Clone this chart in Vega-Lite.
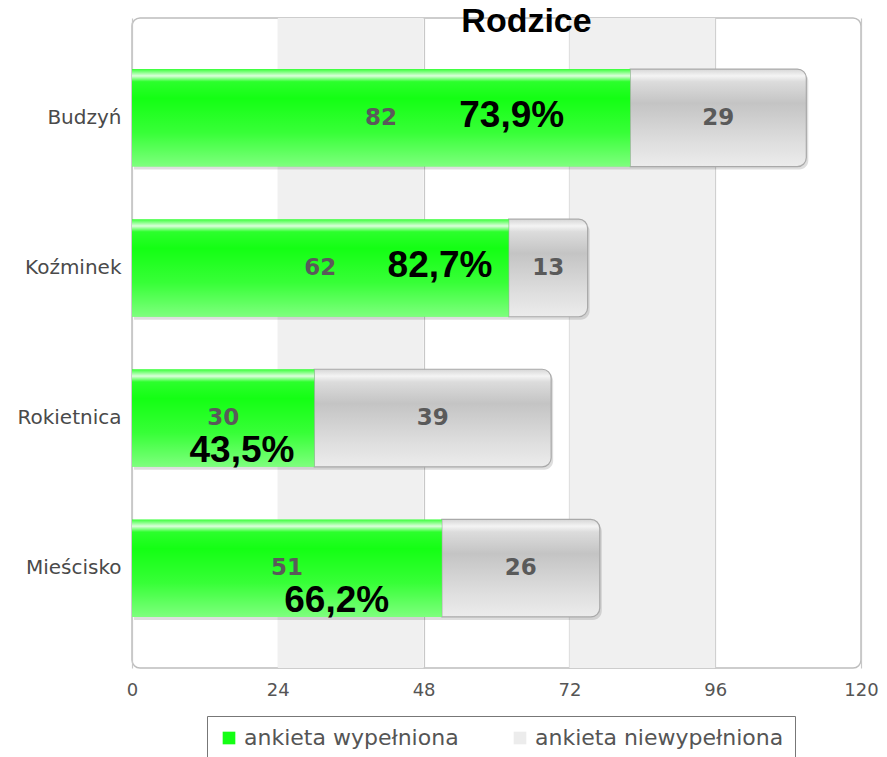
{
  "$schema": "https://vega.github.io/schema/vega-lite/v6.json",
  "width": 729,
  "height": 650,
  "autosize": {"type": "none"},
  "padding": {"left": 132, "top": 18, "right": 26, "bottom": 89},
  "background": "white",
  "title": {
    "text": "Rodzice",
    "font": "Liberation Sans",
    "fontSize": 34,
    "fontWeight": "bold",
    "color": "#000000",
    "anchor": "middle",
    "frame": "group",
    "dx": 30,
    "offset": -21
  },
  "datasets": {
    "ankiety": [
      {"miejscowosc": "Budzyń", "seria": "ankieta wypełniona", "liczba": 82},
      {"miejscowosc": "Budzyń", "seria": "ankieta niewypełniona", "liczba": 29},
      {"miejscowosc": "Koźminek", "seria": "ankieta wypełniona", "liczba": 62},
      {"miejscowosc": "Koźminek", "seria": "ankieta niewypełniona", "liczba": 13},
      {"miejscowosc": "Rokietnica", "seria": "ankieta wypełniona", "liczba": 30},
      {"miejscowosc": "Rokietnica", "seria": "ankieta niewypełniona", "liczba": 39},
      {"miejscowosc": "Mieścisko", "seria": "ankieta wypełniona", "liczba": 51},
      {"miejscowosc": "Mieścisko", "seria": "ankieta niewypełniona", "liczba": 26}
    ],
    "procenty": [
      {"miejscowosc": "Budzyń", "procent": "73,9%", "kotwica": 62.5, "wiersz": "srodek"},
      {"miejscowosc": "Koźminek", "procent": "82,7%", "kotwica": 50.7, "wiersz": "srodek"},
      {"miejscowosc": "Rokietnica", "procent": "43,5%", "kotwica": 18.1, "wiersz": "dol"},
      {"miejscowosc": "Mieścisko", "procent": "66,2%", "kotwica": 33.7, "wiersz": "dol"}
    ],
    "pasy": [
      {"od": 24, "do": 48},
      {"od": 72, "do": 96}
    ]
  },
  "layer": [
    {
      "data": {"name": "pasy"},
      "mark": {"type": "rect", "fill": "#f0f0f0"},
      "encoding": {
        "x": {"field": "od", "type": "quantitative", "scale": {"domain": [0, 120]}, "axis": {"values": [0, 24, 48, 72, 96, 120]}},
        "x2": {"field": "do"}
      }
    },
    {
      "data": {"name": "ankiety"},
      "transform": [
        {"stack": "liczba", "groupby": ["miejscowosc"], "sort": [{"field": "seria", "order": "descending"}], "as": ["x0", "x1"]},
        {"filter": "datum.seria == 'ankieta wypełniona'"}
      ],
      "mark": {
        "type": "bar",
        "fill": "#000000",
        "opacity": 0.13,
        "xOffset": 2,
        "x2Offset": 2,
        "yOffset": 3,
        "y2Offset": 3
      },
      "encoding": {
        "y": {"field": "miejscowosc", "type": "nominal", "sort": ["Budzyń", "Koźminek", "Rokietnica", "Mieścisko"], "scale": {"paddingInner": 0.35, "paddingOuter": 0.34}},
        "x": {"field": "x0", "type": "quantitative"},
        "x2": {"field": "x1"}
      }
    },
    {
      "data": {"name": "ankiety"},
      "transform": [
        {"stack": "liczba", "groupby": ["miejscowosc"], "sort": [{"field": "seria", "order": "descending"}], "as": ["x0", "x1"]},
        {"filter": "datum.seria == 'ankieta niewypełniona'"}
      ],
      "mark": {
        "type": "bar",
        "fill": "#000000",
        "opacity": 0.13,
        "cornerRadiusTopRight": 9,
        "cornerRadiusBottomRight": 9,
        "xOffset": 2,
        "x2Offset": 2,
        "yOffset": 3,
        "y2Offset": 3
      },
      "encoding": {
        "y": {"field": "miejscowosc", "type": "nominal", "sort": ["Budzyń", "Koźminek", "Rokietnica", "Mieścisko"]},
        "x": {"field": "x0", "type": "quantitative"},
        "x2": {"field": "x1"}
      }
    },
    {
      "data": {"name": "ankiety"},
      "transform": [
        {"stack": "liczba", "groupby": ["miejscowosc"], "sort": [{"field": "seria", "order": "descending"}], "as": ["x0", "x1"]},
        {"filter": "datum.seria == 'ankieta niewypełniona'"}
      ],
      "mark": {
        "type": "bar",
        "cornerRadiusTopRight": 9,
        "cornerRadiusBottomRight": 9,
        "stroke": "#a9a9a9",
        "strokeWidth": 1.2,
        "fill": {
          "gradient": "linear", "x1": 0, "y1": 0, "x2": 0, "y2": 1,
          "stops": [
            {"offset": 0, "color": "#d6d6d6"},
            {"offset": 0.07, "color": "#f4f4f4"},
            {"offset": 0.13, "color": "#dcdcdc"},
            {"offset": 0.35, "color": "#c4c4c4"},
            {"offset": 0.75, "color": "#dedede"},
            {"offset": 1, "color": "#ececec"}
          ]
        }
      },
      "encoding": {
        "y": {"field": "miejscowosc", "type": "nominal", "sort": ["Budzyń", "Koźminek", "Rokietnica", "Mieścisko"]},
        "x": {"field": "x0", "type": "quantitative"},
        "x2": {"field": "x1"}
      }
    },
    {
      "data": {"name": "ankiety"},
      "transform": [
        {"stack": "liczba", "groupby": ["miejscowosc"], "sort": [{"field": "seria", "order": "descending"}], "as": ["x0", "x1"]},
        {"filter": "datum.seria == 'ankieta wypełniona'"}
      ],
      "mark": {"type": "bar"},
      "encoding": {
        "y": {"field": "miejscowosc", "type": "nominal", "sort": ["Budzyń", "Koźminek", "Rokietnica", "Mieścisko"]},
        "x": {"field": "x0", "type": "quantitative"},
        "x2": {"field": "x1"},
        "color": {
          "field": "seria",
          "type": "nominal",
          "scale": {"domain": ["ankieta wypełniona", "ankieta niewypełniona"], "range": ["#14ff14", "#ececec"]},
          "legend": {
            "title": null,
            "orient": "none",
            "legendX": 75,
            "legendY": 698,
            "direction": "horizontal",
            "symbolType": "square",
            "symbolSize": 160,
            "symbolStrokeWidth": 0,
            "labelFont": "DejaVu Sans",
            "labelFontSize": 22,
            "labelColor": "#555555",
            "labelLimit": 400,
            "columnPadding": 50,
            "padding": 11,
            "strokeColor": "#777777",
            "fillColor": "#ffffff"
          }
        }
      }
    },
    {
      "data": {"name": "ankiety"},
      "transform": [
        {"stack": "liczba", "groupby": ["miejscowosc"], "sort": [{"field": "seria", "order": "descending"}], "as": ["x0", "x1"]},
        {"filter": "datum.seria == 'ankieta wypełniona'"}
      ],
      "mark": {
        "type": "bar",
        "fill": {
          "gradient": "linear", "x1": 0, "y1": 0, "x2": 0, "y2": 1,
          "stops": [
            {"offset": 0, "color": "rgba(255,255,255,0.15)"},
            {"offset": 0.07, "color": "rgba(255,255,255,0.85)"},
            {"offset": 0.13, "color": "rgba(255,255,255,0.1)"},
            {"offset": 0.3, "color": "rgba(255,255,255,0)"},
            {"offset": 0.65, "color": "rgba(255,255,255,0.15)"},
            {"offset": 1, "color": "rgba(255,255,255,0.45)"}
          ]
        }
      },
      "encoding": {
        "y": {"field": "miejscowosc", "type": "nominal", "sort": ["Budzyń", "Koźminek", "Rokietnica", "Mieścisko"]},
        "x": {"field": "x0", "type": "quantitative"},
        "x2": {"field": "x1"}
      }
    },
    {
      "data": {"name": "ankiety"},
      "transform": [
        {"stack": "liczba", "groupby": ["miejscowosc"], "sort": [{"field": "seria", "order": "descending"}], "as": ["x0", "x1"]},
        {"calculate": "(datum.x0 + datum.x1) / 2", "as": "srodek"}
      ],
      "mark": {"type": "text", "font": "DejaVu Sans", "fontSize": 23, "fontWeight": "bold", "color": "#5a5a5a", "baseline": "middle", "align": "center"},
      "encoding": {
        "y": {"field": "miejscowosc", "type": "nominal", "sort": ["Budzyń", "Koźminek", "Rokietnica", "Mieścisko"]},
        "x": {"field": "srodek", "type": "quantitative"},
        "text": {"field": "liczba", "type": "quantitative"}
      }
    },
    {
      "data": {"name": "procenty"},
      "transform": [{"filter": "datum.wiersz == 'srodek'"}],
      "mark": {"type": "text", "font": "Liberation Sans", "fontSize": 37, "fontWeight": "bold", "color": "#000000", "baseline": "middle", "align": "center", "dy": -2},
      "encoding": {
        "y": {"field": "miejscowosc", "type": "nominal", "sort": ["Budzyń", "Koźminek", "Rokietnica", "Mieścisko"]},
        "x": {"field": "kotwica", "type": "quantitative"},
        "text": {"field": "procent", "type": "nominal"}
      }
    },
    {
      "data": {"name": "procenty"},
      "transform": [{"filter": "datum.wiersz == 'dol'"}],
      "mark": {"type": "text", "font": "Liberation Sans", "fontSize": 37, "fontWeight": "bold", "color": "#000000", "baseline": "middle", "align": "center", "dy": 33},
      "encoding": {
        "y": {"field": "miejscowosc", "type": "nominal", "sort": ["Budzyń", "Koźminek", "Rokietnica", "Mieścisko"]},
        "x": {"field": "kotwica", "type": "quantitative"},
        "text": {"field": "procent", "type": "nominal"}
      }
    }
  ],
  "resolve": {"scale": {"x": "shared", "y": "shared"}},
  "config": {
    "view": {"stroke": "#bdbdbd", "strokeWidth": 1.5, "cornerRadius": 8, "fill": "#ffffff"},
    "axisX": {
      "title": null,
      "grid": true,
      "gridColor": "#c8c8c8",
      "gridWidth": 1.2,
      "domain": false,
      "ticks": false,
      "labelFont": "DejaVu Sans",
      "labelFontSize": 18,
      "labelColor": "#555555",
      "labelPadding": 13,
      "labelFlush": false
    },
    "axisY": {
      "title": null,
      "grid": false,
      "domain": false,
      "ticks": false,
      "labelFont": "DejaVu Sans",
      "labelFontSize": 20,
      "labelColor": "#4a4a4a",
      "labelPadding": 11
    }
  }
}
